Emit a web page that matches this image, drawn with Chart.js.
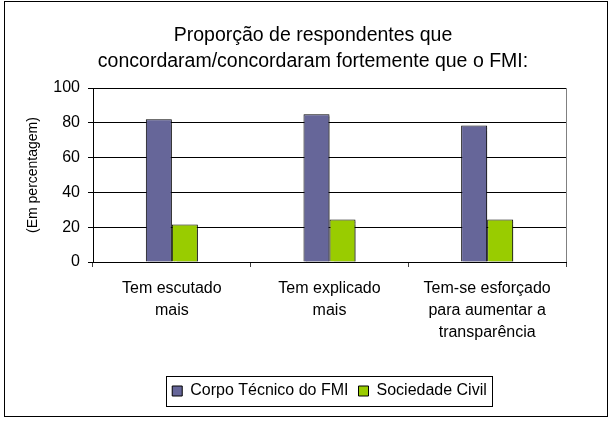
<!DOCTYPE html>
<html>
<head>
<meta charset="utf-8">
<script src="https://cdn.jsdelivr.net/npm/chart.js@4"></script>
<style>
  html, body { margin: 0; padding: 0; background: #fff; }
  canvas { display: block; }
</style>
</head>
<body>
<canvas id="chart" width="613" height="421"></canvas>
<script>
const categories = [
    ['Tem escutado', 'mais'],
    ['Tem explicado', 'mais'],
    ['Tem-se esforçado', 'para aumentar a', 'transparência']
];
const seriesNames = ['Corpo Técnico do FMI', 'Sociedade Civil'];
const staffValues = [82, 85, 78.5];
const civilValues = [21.5, 24.5, 24.5];
const yTicks = [0, 20, 40, 60, 80, 100];
const titleLines = ['Proporção de respondentes que', 'concordaram/concordaram fortemente que o FMI:'];

const FONT = '"Liberation Sans", Arial, sans-serif';

// white page + outer frame + grey right edge of the plot area + legend box
const framePlugin = {
    id: 'frame',
    beforeDraw(chart) {
        const ctx = chart.ctx;
        ctx.save();
        ctx.fillStyle = '#fff';
        ctx.fillRect(0, 0, chart.width, chart.height);
        ctx.restore();
    },
    beforeDatasetsDraw(chart) {
        const ctx = chart.ctx;
        ctx.save();
        ctx.shadowColor = 'rgba(0,0,0,0.35)';
        ctx.shadowOffsetX = 2;
        ctx.shadowOffsetY = 2;
        ctx.shadowBlur = 1;
    },
    afterDatasetsDraw(chart) {
        chart.ctx.restore();
    },
    afterDraw(chart) {
        const ctx = chart.ctx;
        const area = chart.chartArea;
        ctx.save();
        ctx.lineWidth = 1;
        ctx.strokeStyle = '#808080';
        ctx.beginPath();
        ctx.moveTo(Math.round(area.right) + 0.5, area.top);
        ctx.lineTo(Math.round(area.right) + 0.5, area.bottom);
        ctx.stroke();

        ctx.strokeStyle = '#000';
        ctx.strokeRect(4.5, 1.5, 603, 415);

        const boxes = chart.legend.legendHitBoxes;
        if (boxes && boxes.length) {
            const first = boxes[0];
            const last = boxes[boxes.length - 1];
            const cy = first.top + first.height / 2;
            const l = Math.round(first.left - 6) + 0.5;
            const r = Math.round(last.left + last.width + 5) + 0.5;
            ctx.strokeRect(l, Math.round(cy - 15) + 0.5, r - l, 30);
        }
        ctx.restore();
    }
};

new Chart(document.getElementById('chart'), {
    type: 'bar',
    data: {
        labels: categories,
        datasets: [
            {
                label: seriesNames[0],
                data: staffValues,
                backgroundColor: '#666699',
                borderColor: '#000',
                borderWidth: 1
            },
            {
                label: seriesNames[1],
                data: civilValues,
                backgroundColor: '#99cc00',
                borderColor: '#000',
                borderWidth: 1
            }
        ]
    },
    options: {
        responsive: false,
        animation: false,
        devicePixelRatio: 1,
        categoryPercentage: 0.33,
        barPercentage: 1,
        layout: { padding: { left: 15, right: 2, top: 0, bottom: 12 } },
        plugins: {
            title: {
                display: true,
                text: titleLines,
                color: '#000',
                font: { family: FONT, size: 19.5, weight: 'normal', lineHeight: 1.36 },
                padding: { top: 22, bottom: 13 }
            },
            legend: {
                position: 'bottom',
                fullSize: false,
                labels: {
                    color: '#000',
                    font: { family: FONT, size: 16 },
                    boxWidth: 10,
                    boxHeight: 10,
                    padding: 10
                }
            },
            tooltip: { enabled: false }
        },
        scales: {
            x: {
                grid: {
                    offset: true,
                    drawOnChartArea: false,
                    tickLength: 5,
                    color: '#404040'
                },
                border: { display: true, color: '#000' },
                ticks: {
                    color: '#000',
                    font: { family: FONT, size: 16, lineHeight: 1.375 },
                    padding: 11,
                    maxRotation: 0,
                    autoSkip: false
                },
                afterFit(scale) { scale.height = 111; }
            },
            y: {
                min: 0,
                max: 100,
                afterBuildTicks(scale) {
                    scale.ticks = yTicks.map(v => ({ value: v }));
                },
                grid: { color: '#000', tickLength: 5 },
                border: { display: true, color: '#000' },
                ticks: {
                    color: '#000',
                    font: { family: FONT, size: 16 },
                    padding: 8
                },
                title: {
                    display: true,
                    text: '(Em percentagem)',
                    color: '#000',
                    font: { family: FONT, size: 14 },
                    padding: { top: 10, bottom: 0 }
                },
                afterFit(scale) { scale.width = 78; }
            },
            spacer: {
                type: 'linear',
                position: 'right',
                display: true,
                grid: { display: false },
                border: { display: false },
                ticks: { display: false },
                afterFit(scale) { scale.width = 45; }
            }
        }
    },
    plugins: [framePlugin]
});
</script>
</body>
</html>
